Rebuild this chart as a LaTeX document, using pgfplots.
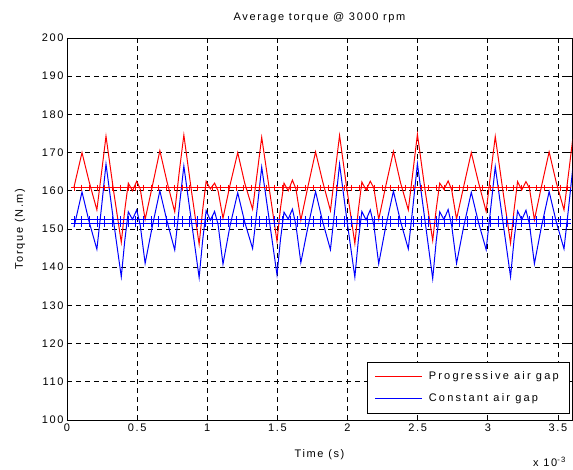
\documentclass[border=0pt]{standalone}
\usepackage{fontspec}
\setmainfont{Liberation Sans}[LetterSpace=15]
\usepackage{pgfplots}
\usepackage{pgfplotstable}
\pgfplotsset{compat=1.18}
\usetikzlibrary{calc}

\pgfplotstableread{
x r b1 b2
0.050 160.8 152.6 151.4
0.105 160.8 152.6 151.4
0.160 160.8 152.6 151.4
0.215 160.8 152.6 151.4
0.270 160.8 152.6 151.4
0.325 160.8 152.6 151.4
0.380 160.8 152.6 151.4
0.435 160.8 152.6 151.4
0.490 160.8 152.6 151.4
0.545 160.8 152.6 151.4
0.600 160.8 152.6 151.4
0.655 160.8 152.6 151.4
0.710 160.8 152.6 151.4
0.765 160.8 152.6 151.4
0.820 160.8 152.6 151.4
0.875 160.8 152.6 151.4
0.930 160.8 152.6 151.4
0.985 160.8 152.6 151.4
1.040 160.8 152.6 151.4
1.095 160.8 152.6 151.4
1.150 160.8 152.6 151.4
1.205 160.8 152.6 151.4
1.260 160.8 152.6 151.4
1.315 160.8 152.6 151.4
1.370 160.8 152.6 151.4
1.425 160.8 152.6 151.4
1.480 160.8 152.6 151.4
1.535 160.8 152.6 151.4
1.590 160.8 152.6 151.4
1.645 160.8 152.6 151.4
1.700 160.8 152.6 151.4
1.755 160.8 152.6 151.4
1.810 160.8 152.6 151.4
1.865 160.8 152.6 151.4
1.920 160.8 152.6 151.4
1.975 160.8 152.6 151.4
2.030 160.8 152.6 151.4
2.085 160.8 152.6 151.4
2.140 160.8 152.6 151.4
2.195 160.8 152.6 151.4
2.250 160.8 152.6 151.4
2.305 160.8 152.6 151.4
2.360 160.8 152.6 151.4
2.415 160.8 152.6 151.4
2.470 160.8 152.6 151.4
2.525 160.8 152.6 151.4
2.580 160.8 152.6 151.4
2.635 160.8 152.6 151.4
2.690 160.8 152.6 151.4
2.745 160.8 152.6 151.4
2.800 160.8 152.6 151.4
2.855 160.8 152.6 151.4
2.910 160.8 152.6 151.4
2.965 160.8 152.6 151.4
3.020 160.8 152.6 151.4
3.075 160.8 152.6 151.4
3.130 160.8 152.6 151.4
3.185 160.8 152.6 151.4
3.240 160.8 152.6 151.4
3.295 160.8 152.6 151.4
3.350 160.8 152.6 151.4
3.405 160.8 152.6 151.4
3.460 160.8 152.6 151.4
3.515 160.8 152.6 151.4
3.570 160.8 152.6 151.4
}\avgtable

\begin{document}
\begin{tikzpicture}
\begin{axis}[
  scale only axis, width=505pt, height=382pt,
  xmin=0, xmax=3.6, ymin=100, ymax=200,
  xtick={0,0.5,1,1.5,2,2.5,3,3.5},
  ytick={100,110,120,130,140,150,160,170,180,190,200},
  tick align=inside, major tick length=5pt,
  grid=major,
  major grid style={black, line width=0.8pt, dash pattern=on 5pt off 4pt},
  axis line style={black, line width=0.8pt},
  tick style={black, line width=0.8pt},
  font=\fontsize{11}{13}\selectfont,
  /pgf/number format/assume math mode=true,
  title={Average torque @ 3000 rpm},
  title style={at={(axis description cs:0.5,1.031)}, anchor=base},
  xlabel={Time (s)},
  xlabel style={at={(axis description cs:0.5,-0.097)}, anchor=base},
  ylabel={Torque (N.m)},
  ylabel style={at={(axis description cs:-0.093,0.5)}, anchor=center},
  legend style={at={(0.994,0.018)}, anchor=south east, draw=black, fill=white,
    font=\fontsize{11}{13}\selectfont\addfontfeatures{LetterSpace=20},
    inner xsep=8pt, inner ysep=8pt, row sep=8pt,
    /tikz/every odd column/.append style={column sep=4pt}},
  legend cell align=left,
  legend image post style={xscale=2.75},
]
\addplot[red, line width=1pt] coordinates {
(0.05,161)
(0.107,170) (0.157,162.5) (0.213,155) (0.247,165) (0.278,174.3) (0.332,160) (0.387,146.5) (0.412,155) (0.437,162) (0.467,160) (0.497,162.5) (0.522,160.5) (0.557,152.5) (0.607,161)
(0.662,170.5) (0.712,162.5) (0.768,154.5) (0.802,165.5) (0.833,174.6) (0.887,160) (0.942,146) (0.967,155) (0.992,162.5) (1.022,160.5) (1.052,162) (1.077,160) (1.112,152.8) (1.162,161.5)
(1.217,170) (1.267,162) (1.323,155.2) (1.357,165) (1.388,174) (1.442,160.5) (1.497,146.8) (1.522,155.5) (1.547,162) (1.577,160) (1.607,162.8) (1.632,160.5) (1.667,152.3) (1.717,161)
(1.772,170.2) (1.822,162.5) (1.878,154.8) (1.912,165.2) (1.943,174.5) (1.997,160) (2.052,146.2) (2.077,155) (2.102,162.3) (2.132,160.2) (2.162,162.5) (2.187,160.8) (2.222,152.5) (2.272,161.2)
(2.327,170.3) (2.377,162.2) (2.433,155) (2.467,165.3) (2.498,174.8) (2.552,160.3) (2.607,147) (2.632,155.2) (2.657,162) (2.687,160.4) (2.717,162.6) (2.742,160.3) (2.777,152.6) (2.827,161)
(2.882,170) (2.932,162.4) (2.988,154.6) (3.022,165) (3.053,174.2) (3.107,160.1) (3.162,146.3) (3.187,155) (3.212,162.4) (3.242,160.2) (3.272,162.4) (3.297,160.6) (3.332,152.4) (3.382,161.1)
(3.437,170.2) (3.487,162.3) (3.543,155) (3.577,165) (3.608,174.4)
};
\addlegendentry{Progressive air gap}
\addplot[blue, line width=1pt] coordinates {
(0.05,150.5)
(0.107,159.7) (0.157,152) (0.213,144.7) (0.247,156) (0.278,167) (0.332,152) (0.387,137.5) (0.412,147) (0.437,154.5) (0.467,152.5) (0.497,155) (0.522,151) (0.557,141) (0.607,150.5)
(0.662,160) (0.712,152.2) (0.768,144.5) (0.802,156.3) (0.833,166.5) (0.887,152) (0.942,137.3) (0.967,147) (0.992,154.8) (1.022,152.3) (1.052,154.6) (1.077,151.2) (1.112,140.8) (1.162,150.8)
(1.217,159.5) (1.267,151.8) (1.323,144.9) (1.357,155.8) (1.388,166.2) (1.442,152.3) (1.497,138) (1.522,147.3) (1.547,154.4) (1.577,152.6) (1.607,155.2) (1.632,151) (1.667,141.2) (1.717,150.4)
(1.772,159.8) (1.822,152) (1.878,144.6) (1.912,156.1) (1.943,167) (1.997,151.9) (2.052,137.4) (2.077,147.1) (2.102,154.6) (2.132,152.4) (2.162,155) (2.187,151.1) (2.222,140.9) (2.272,150.6)
(2.327,159.9) (2.377,152.1) (2.433,144.8) (2.467,156.2) (2.498,167.1) (2.552,152.2) (2.607,137) (2.632,146.8) (2.657,154.5) (2.687,152.5) (2.717,155.1) (2.742,151) (2.777,141) (2.827,150.5)
(2.882,159.6) (2.932,151.9) (2.988,144.6) (3.022,155.9) (3.053,166.3) (3.107,152) (3.162,137.5) (3.187,147.2) (3.212,154.7) (3.242,152.4) (3.272,154.9) (3.297,151.2) (3.332,140.9) (3.382,150.6)
(3.437,159.8) (3.487,152) (3.543,144.8) (3.577,156) (3.608,166.8)
};
\addlegendentry{Constant air gap}
\addplot[red, line width=1pt, mark=+, mark size=3pt, forget plot] table[x=x, y=r] {\avgtable};
\addplot[blue, line width=1pt, mark=+, mark size=3pt, forget plot] table[x=x, y=b1] {\avgtable};
\addplot[blue, line width=1pt, mark=+, mark size=3pt, forget plot] table[x=x, y=b2] {\avgtable};
\end{axis}
\node[anchor=base west, font=\fontsize{11}{13}\selectfont, inner sep=0pt] at ($(current axis.south east)+(-39pt,-46pt)$) {x 10\textsuperscript{-3}};
\pgfresetboundingbox
\path[use as bounding box] ($(current axis.south west)+(-67pt,-49pt)$) rectangle ($(current axis.north east)+(1pt,38pt)$);
\end{tikzpicture}
\end{document}
